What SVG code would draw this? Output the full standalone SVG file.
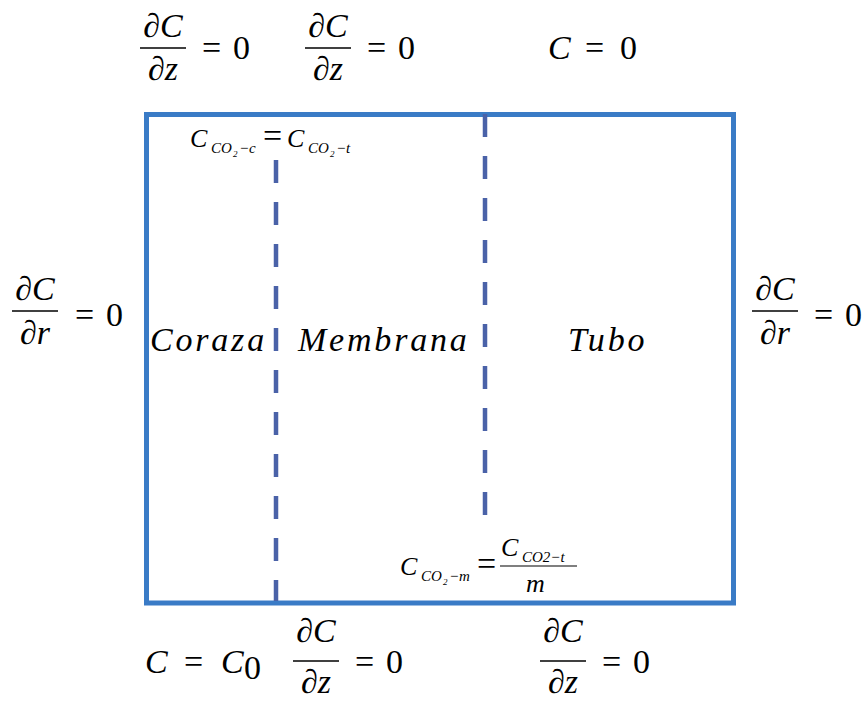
<svg xmlns="http://www.w3.org/2000/svg" width="866" height="704" viewBox="0 0 866 704">
<style>
.m{font-family:"Liberation Serif","DejaVu Serif",serif;font-style:italic;font-size:34px;fill:#000}
.n{font-family:"Liberation Serif","DejaVu Serif",serif;font-style:normal;font-size:34px;fill:#000}
.lab{font-family:"Liberation Serif","DejaVu Serif",serif;font-style:italic;font-size:34px;fill:#000;letter-spacing:2.8px}
.s{font-family:"Liberation Serif","DejaVu Serif",serif;font-style:italic;fill:#000}
.fl{stroke:#000;stroke-width:1.6}
.dash{stroke:#4a62a8;stroke-width:4.5;stroke-dasharray:23 19;fill:none}
</style>
<rect width="866" height="704" fill="#fff"/>
<g id="box">
<rect x="146.5" y="114.5" width="587" height="488.5" fill="none" stroke="#3a7bc6" stroke-width="5"/>
</g>
<g id="connectors">
<line class="dash" x1="276" y1="160" x2="276" y2="601"/>
<line class="dash" x1="485" y1="114" x2="485" y2="520"/>
</g>
<g id="top-left-bc">
<text class="m" x="163" y="37" text-anchor="middle">∂C</text>
<line class="fl" x1="140" y1="48" x2="186" y2="48"/>
<text class="m" x="163" y="80" text-anchor="middle">∂z</text>
<text class="n" x="202" y="59">=</text><text class="n" x="233" y="59">0</text>
</g>
<g id="top-mid-bc">
<text class="m" x="328" y="37" text-anchor="middle">∂C</text>
<line class="fl" x1="305" y1="48" x2="351" y2="48"/>
<text class="m" x="328" y="80" text-anchor="middle">∂z</text>
<text class="n" x="367" y="59">=</text><text class="n" x="398" y="59">0</text>
</g>
<g id="top-right-bc">
<text class="m" x="548" y="59">C</text><text class="n" x="585" y="59">=</text><text class="n" x="620" y="59">0</text>
</g>
<g id="left-bc">
<text class="m" x="35" y="300" text-anchor="middle">∂C</text>
<line class="fl" x1="12" y1="311" x2="58" y2="311"/>
<text class="m" x="35" y="344" text-anchor="middle">∂r</text>
<text class="n" x="75" y="326">=</text><text class="n" x="106" y="326">0</text>
</g>
<g id="right-bc">
<text class="m" x="775" y="300" text-anchor="middle">∂C</text>
<line class="fl" x1="752" y1="311" x2="798" y2="311"/>
<text class="m" x="775" y="344" text-anchor="middle">∂r</text>
<text class="n" x="814" y="326">=</text><text class="n" x="845" y="326">0</text>
</g>
<g id="coraza"><text class="lab" x="150" y="351">Coraza</text></g>
<g id="membrana"><text class="lab" x="298" y="351">Membrana</text></g>
<g id="tubo"><text class="lab" x="568" y="351">Tubo</text></g>
<g id="interface-top">
<text class="s" x="190" y="147" font-size="26">C</text>
<text class="s" x="211" y="153" font-size="15">CO</text>
<text class="s" x="233" y="157" font-size="9">2</text>
<text class="s" x="239" y="153" font-size="15">−c</text>
<text class="n" x="263" y="147" font-size="24">=</text>
<text class="s" x="287" y="147" font-size="26">C</text>
<text class="s" x="308" y="153" font-size="15">CO</text>
<text class="s" x="330" y="157" font-size="9">2</text>
<text class="s" x="336" y="153" font-size="15">−t</text>
</g>
<g id="interface-bottom">
<text class="s" x="400" y="575" font-size="26">C</text>
<text class="s" x="421" y="581" font-size="15">CO</text>
<text class="s" x="443" y="585" font-size="9">2</text>
<text class="s" x="449" y="581" font-size="15">−m</text>
<text class="n" x="477" y="575" font-size="24">=</text>
<text class="s" x="501" y="556" font-size="26">C</text>
<text class="s" x="522" y="562" font-size="15">CO2−t</text>
<line stroke="#000" stroke-width="1.2" x1="500" y1="566" x2="577" y2="566"/>
<text class="s" x="526" y="592" font-size="26">m</text>
</g>
<g id="bottom-left-bc">
<text class="m" x="145" y="673">C</text><text class="n" x="184" y="673">=</text><text class="m" x="221" y="673">C</text><text class="n" x="244" y="679" font-size="24">0</text>
</g>
<g id="bottom-mid-bc">
<text class="m" x="316" y="642" text-anchor="middle">∂C</text>
<line class="fl" x1="293" y1="661" x2="339" y2="661"/>
<text class="m" x="316" y="693" text-anchor="middle">∂z</text>
<text class="n" x="355" y="673">=</text><text class="n" x="386" y="673">0</text>
</g>
<g id="bottom-right-bc">
<text class="m" x="563" y="642" text-anchor="middle">∂C</text>
<line class="fl" x1="540" y1="661" x2="586" y2="661"/>
<text class="m" x="563" y="693" text-anchor="middle">∂z</text>
<text class="n" x="602" y="673">=</text><text class="n" x="633" y="673">0</text>
</g>
</svg>
